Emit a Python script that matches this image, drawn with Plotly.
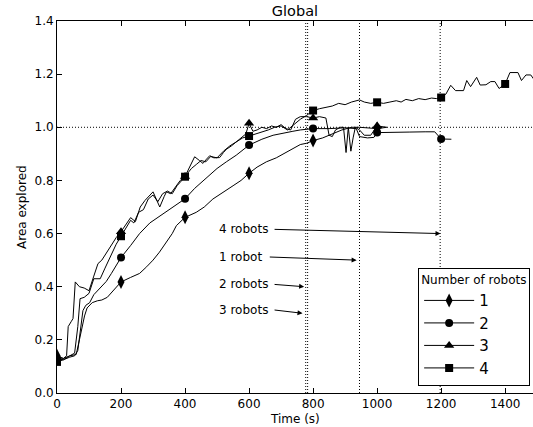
import plotly.graph_objects as go

# ---- data ----
t1 = [0, 20, 40, 60, 70, 78, 86, 94, 110, 126, 140, 157, 175, 200, 230, 258, 280, 300, 320, 342, 360, 373,
      400, 435, 460, 487, 520, 550, 575, 600, 625, 654, 685, 717, 740, 760, 780, 800, 830, 860, 890, 920,
      945, 1000, 1030]
v1 = [0.14, 0.13, 0.14, 0.145, 0.2, 0.25, 0.29, 0.32, 0.34, 0.347, 0.35, 0.36, 0.385, 0.418, 0.435, 0.45,
      0.475, 0.50, 0.53, 0.567, 0.60, 0.63, 0.661, 0.68, 0.70, 0.73, 0.755, 0.78, 0.80, 0.827, 0.85, 0.87,
      0.885, 0.905, 0.92, 0.935, 0.94, 0.95, 0.96, 0.975, 0.99, 1.0, 1.0, 0.995, 1.0]

t2 = [0, 20, 40, 55, 65, 75, 81, 90, 102, 115, 130, 154, 170, 185, 200, 230, 258, 290, 320, 342, 370, 400,
      430, 467, 500, 529, 560, 600, 640, 675, 710, 737, 760, 800, 850, 900, 935, 945, 970, 990, 1000, 1050,
      1100, 1150, 1180, 1200, 1232]
v2 = [0.13, 0.125, 0.135, 0.14, 0.16, 0.25, 0.31, 0.33, 0.34, 0.37, 0.39, 0.42, 0.45, 0.48, 0.51, 0.555,
      0.60, 0.64, 0.665, 0.68, 0.705, 0.731, 0.77, 0.81, 0.845, 0.87, 0.895, 0.933, 0.955, 0.97, 0.98, 0.985,
      0.99, 0.995, 0.995, 0.998, 0.995, 0.965, 0.96, 0.962, 0.98, 0.98, 0.982, 0.983, 0.983, 0.956, 0.955]

t3 = [0, 20, 30, 35, 45, 50, 57, 70, 85, 100, 115, 128, 140, 155, 170, 185, 200, 215, 230, 245, 260, 275,
      290, 300, 310, 321, 335, 342, 355, 370, 385, 400, 415, 430, 445, 456, 467, 477, 490, 508, 520, 529,
      545, 560, 575, 590, 600, 612, 625, 640, 655, 670, 685, 700, 715, 730, 745, 760, 780, 800, 820, 840,
      850, 860, 870, 885, 895, 903, 910, 918, 925, 932, 945, 960, 980, 1000, 1030]
v3 = [0.135, 0.13, 0.14, 0.25, 0.27, 0.28, 0.418, 0.40, 0.395, 0.385, 0.44, 0.487, 0.50, 0.53, 0.56, 0.585,
      0.607, 0.635, 0.66, 0.645, 0.70, 0.725, 0.745, 0.757, 0.73, 0.70, 0.74, 0.757, 0.75, 0.775, 0.80,
      0.815, 0.85, 0.889, 0.875, 0.864, 0.88, 0.893, 0.885, 0.886, 0.905, 0.917, 0.93, 0.945, 0.96, 0.975,
      1.015, 0.985, 0.99, 1.0, 0.995, 1.005, 1.0, 1.01, 0.995, 0.99, 1.03, 1.04, 1.04, 1.035, 1.04, 1.035,
      0.97, 0.965, 0.99, 1.0, 1.0, 0.905, 1.0, 0.91, 0.96, 1.0, 0.99, 0.97, 0.97, 1.005, 1.0]

t4 = [0, 20, 40, 55, 65, 72, 85, 100, 115, 135, 150, 170, 185, 200, 215, 230, 240, 255, 270, 285, 300, 315,
      330, 345, 360, 375, 390, 400, 420, 435, 450, 465, 480, 500, 520, 540, 560, 580, 600, 620, 640, 660,
      680, 700, 720, 740, 760, 780, 800, 820, 840, 860, 880, 900, 920, 945, 960, 980, 1000, 1020, 1040,
      1060, 1075, 1090, 1110, 1130, 1150, 1170, 1185, 1200, 1215, 1230, 1245, 1270, 1280, 1292, 1311, 1322,
      1340, 1355, 1368, 1381, 1400, 1415, 1440, 1451, 1465, 1480, 1490]
v4 = [0.117, 0.125, 0.14, 0.15, 0.25, 0.355, 0.36, 0.375, 0.43, 0.43, 0.47, 0.52, 0.56, 0.59, 0.62, 0.65,
      0.64, 0.68, 0.69, 0.73, 0.745, 0.72, 0.75, 0.76, 0.75, 0.78, 0.80, 0.814, 0.845, 0.86, 0.875, 0.87,
      0.89, 0.885, 0.91, 0.93, 0.945, 0.96, 0.967, 0.975, 0.98, 0.99, 1.0, 1.005, 0.99, 1.01, 1.03, 1.045,
      1.063, 1.07, 1.075, 1.08, 1.09, 1.085, 1.095, 1.103, 1.095, 1.09, 1.094, 1.09, 1.095, 1.1, 1.095,
      1.105, 1.1, 1.108, 1.104, 1.11, 1.108, 1.112, 1.125, 1.158, 1.138, 1.138, 1.176, 1.153, 1.188, 1.159,
      1.16, 1.172, 1.172, 1.146, 1.163, 1.206, 1.206, 1.176, 1.197, 1.197, 1.18]

series_names = ["1", "2", "3", "4"]
series_t = [t1, t2, t3, t4]
series_v = [v1, v2, v3, v4]
symbols = ["diamond-tall", "circle", "triangle-up", "square"]
msizes = [10, 8, 9, 8]

marker_every = 200
done_times = [777, 783, 945, 1197]          # vertical dotted lines
arrow_labels = ["4 robots", "1 robot", "2 robots", "3 robots"]
arrow_heads = [(1198, 0.60), (936, 0.50), (772, 0.40), (767, 0.30)]
arrow_tails = [(675, 0.616), (660, 0.512), (675, 0.409), (675, 0.313)]
label_pos = [(500, 0.616), (500, 0.512), (500, 0.409), (500, 0.313)]

FONT = "DejaVu Sans"
DOT = "1px,2px"
fig = go.Figure()

for name, ts, vs, sym, ms in zip(series_names, series_t, series_v, symbols, msizes):
    fig.add_trace(go.Scatter(x=ts, y=vs, mode="lines", line=dict(color="black", width=1),
                             showlegend=False, hoverinfo="skip"))
    mx = [t for t in ts if t % marker_every == 0]
    my = [v for t, v in zip(ts, vs) if t % marker_every == 0]
    fig.add_trace(go.Scatter(x=mx, y=my, mode="markers",
                             marker=dict(symbol=sym, size=ms, color="black"),
                             showlegend=False))
    fig.add_trace(go.Scatter(x=[None], y=[None], mode="lines+markers", name=name,
                             line=dict(color="black", width=1),
                             marker=dict(symbol=sym, size=ms, color="black")))

for xt in done_times:
    fig.add_shape(type="line", xref="x", yref="paper", x0=xt, x1=xt, y0=0, y1=1,
                  line=dict(color="black", width=1, dash=DOT), layer="below")
fig.add_shape(type="line", xref="paper", yref="y", x0=0, x1=1, y0=1.0, y1=1.0,
              line=dict(color="black", width=1, dash=DOT), layer="below")

for lab, (hx, hy), (tx, ty), (lx, ly) in zip(arrow_labels, arrow_heads, arrow_tails, label_pos):
    fig.add_annotation(x=lx, y=ly, text=lab, showarrow=False, xanchor="left", yanchor="middle",
                       font=dict(family=FONT, size=12, color="black"))
    fig.add_annotation(x=hx, y=hy, ax=tx, ay=ty, axref="x", ayref="y", text="",
                       showarrow=True, arrowhead=2, arrowsize=1, arrowwidth=1, arrowcolor="black")

# axis titles as paper annotations for exact placement
fig.add_annotation(x=0.5, y=0, xref="paper", yref="paper", yshift=-26, text="Time (s)",
                   showarrow=False, yanchor="middle", font=dict(family=FONT, size=12))
fig.add_annotation(x=0, y=0.5, xref="paper", yref="paper", xshift=-35, text="Area explored",
                   showarrow=False, textangle=-90, xanchor="center",
                   font=dict(family=FONT, size=12))

fig.update_layout(
    width=533, height=427,
    margin=dict(l=57, r=0, t=21, b=34, autoexpand=False),
    paper_bgcolor="white", plot_bgcolor="white",
    font=dict(family=FONT, size=12, color="black"),
    title=dict(text="Global", x=295 / 533, xref="container", y=1 - 11 / 427, yref="container",
               xanchor="center", yanchor="middle", font=dict(family=FONT, size=14.5), automargin=False),
    legend=dict(x=0.994, xanchor="right", y=0.02, yanchor="bottom",
                bordercolor="black", borderwidth=1, bgcolor="white",
                title=dict(text="Number of robots", side="top", font=dict(size=12)),
                font=dict(family=FONT, size=15), tracegroupgap=0, itemwidth=50),
    showlegend=True,
)
fig.update_xaxes(range=[0, 1487], tickvals=[0, 200, 400, 600, 800, 1000, 1200, 1400],
                 ticks="inside", ticklen=5, tickcolor="black", showline=True, linecolor="black",
                 linewidth=1, mirror="ticks", showgrid=False, zeroline=False, automargin=False,
                 tickfont=dict(size=12))
fig.update_yaxes(range=[0, 1.4], tickvals=[0, 0.2, 0.4, 0.6, 0.8, 1.0, 1.2, 1.4], tickformat=".1f",
                 ticks="inside", ticklen=5, tickcolor="black", showline=True, linecolor="black",
                 linewidth=1, mirror=False, showgrid=False, zeroline=False, automargin=False,
                 tickfont=dict(size=12))

fig.write_html("out.html", config={"displayModeBar": False},
               post_script="document.body.style.margin='0';document.body.style.padding='0';")
